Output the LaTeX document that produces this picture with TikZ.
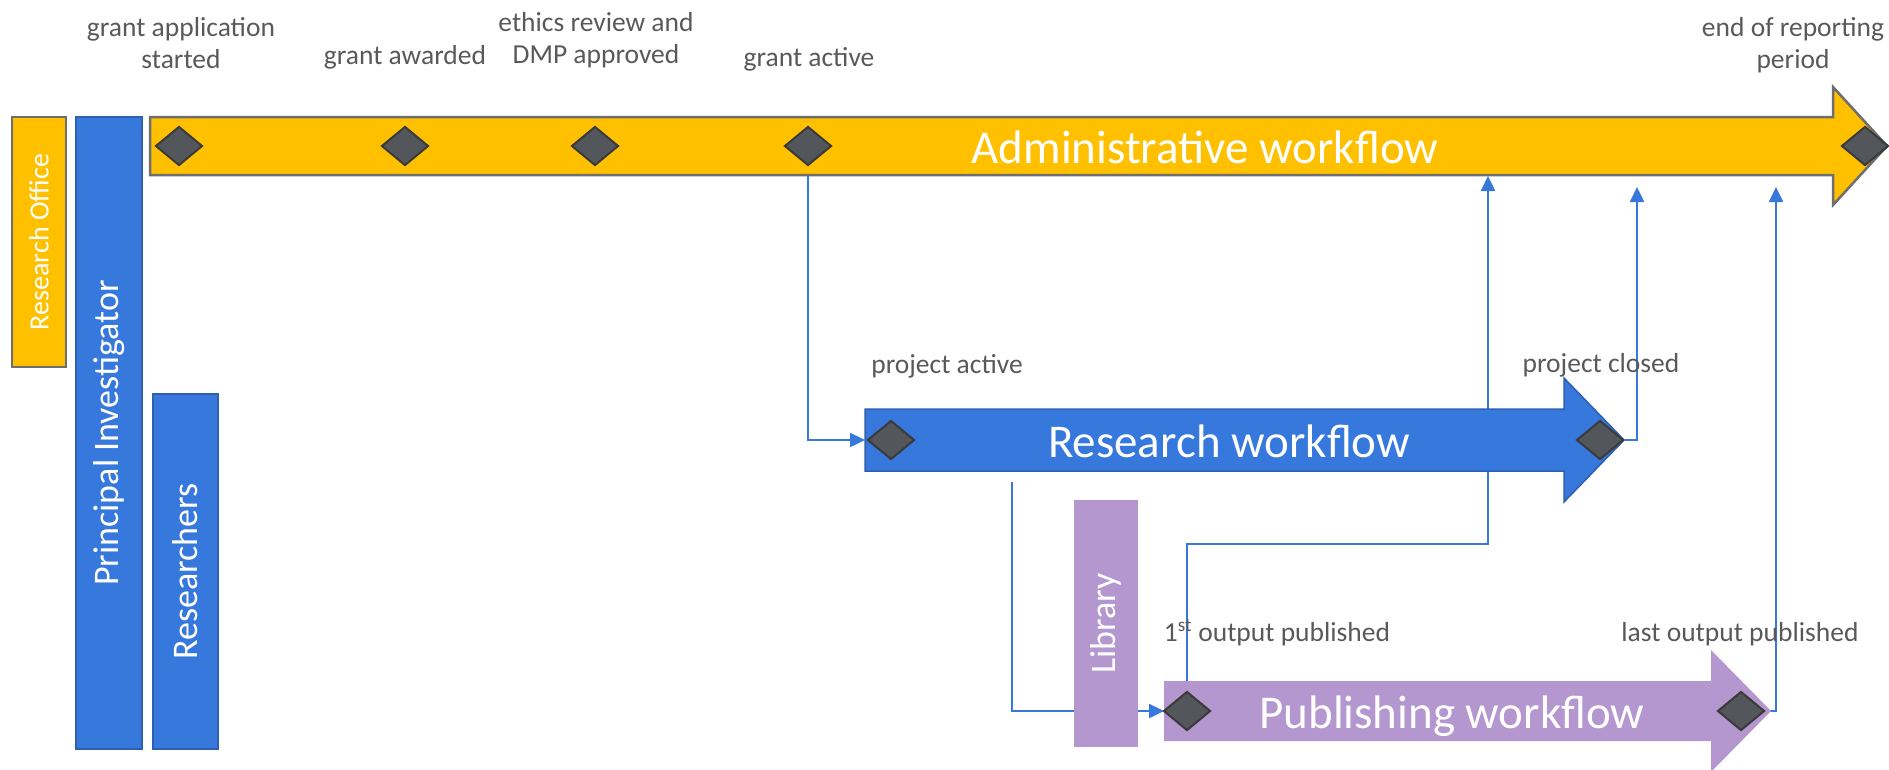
\documentclass[tikz,border=0pt]{standalone}
\usepackage{fontspec}
\setmainfont{Carlito}
\usepackage{tikz}
\usetikzlibrary{shapes.geometric,arrows.meta,positioning,backgrounds}

\definecolor{adminyellow}{HTML}{FFC000}
\definecolor{resblue}{HTML}{3778DC}
\definecolor{resedge}{HTML}{2F5FAF}
\definecolor{pubpurple}{HTML}{B497CF}
\definecolor{msgrey}{HTML}{53565A}
\definecolor{msedge}{HTML}{3A3A3A}
\definecolor{lblgrey}{HTML}{595959}
\definecolor{boxedge}{HTML}{6E6E6E}

\tikzset{
  milestone/.style={diamond, draw=msedge, line width=2pt, fill=msgrey, minimum width=47pt, minimum height=39pt, inner sep=0pt},
  lbl/.style={text=lblgrey, align=center, font=\fontsize{27.5}{32}\selectfont, anchor=base, inner sep=0pt},
  flowtext/.style={text=white, font=\fontsize{47}{50}\selectfont, anchor=base, inner sep=0pt},
  lane/.style={rotate=90, text=white, inner sep=0pt},
  flow/.style={draw=resblue, line width=2.4pt, -{Triangle[length=15pt,width=14pt]}},
}

\begin{document}
\begin{tikzpicture}[x=1pt, y=-1pt]
    \useasboundingbox (0,0) rectangle (1889,769);

    % Lanes
    \node[lane, fill=adminyellow, draw=boxedge, line width=2pt, minimum width=250pt, minimum height=54pt, font=\fontsize{28}{30}\selectfont] (office) at (39,242) {Research Office};
    \node[lane, fill=resblue, draw=resedge, line width=2pt, minimum width=632pt, minimum height=66pt, font=\fontsize{36}{40}\selectfont] (pi) at (109,433) {Principal Investigator};
    \node[lane, fill=resblue, draw=resedge, line width=2pt, minimum width=355pt, minimum height=65pt, font=\fontsize{36}{40}\selectfont] (researchers) at (185.5,571.5) {Researchers};
    \node[lane, fill=pubpurple, minimum width=247pt, minimum height=64pt, font=\fontsize{36}{40}\selectfont] (library) at (1106,623.5) {Library};

    % Workflows
    \draw[fill=adminyellow, draw=boxedge, line width=2.5pt] (150,117) -- (1833,117) -- (1833,87) -- (1887,146) -- (1833,205) -- (1833,175) -- (150,175) -- cycle;
    \draw[fill=resblue, draw=resedge, line width=1.5pt] (865,409) -- (1564,409) -- (1564,378) -- (1624,440) -- (1564,502) -- (1564,471) -- (865,471) -- cycle;
    \fill[pubpurple] (1164,681) -- (1711,681) -- (1711,650) -- (1771,711) -- (1711,772) -- (1711,741) -- (1164,741) -- cycle;

    \node[flowtext] (admintext) at (1205,163) {Administrative workflow};
    \node[flowtext] (restext) at (1229,457) {Research workflow};
    \node[flowtext] (pubtext) at (1452,728) {Publishing workflow};

    % Milestones
    \node[milestone] (dA1) at (179,146) {};
    \node[milestone] (dA2) at (405,146) {};
    \node[milestone] (dA3) at (595,146) {};
    \node[milestone] (dA4) at (808,146) {};
    \node[milestone] (dA5) at (1865,146) {};
    \node[milestone] (dR1) at (891,440) {};
    \node[milestone] (dR2) at (1600,440) {};
    \node[milestone] (dP1) at (1187,711) {};
    \node[milestone] (dP2) at (1741,711) {};

    % Labels
    \node[lbl] (lA1) at (181,68) {grant application\\started};
    \node[lbl] (lA2) at (405,64) {grant awarded};
    \node[lbl] (lA3) at (596,63) {ethics review and\\DMP approved};
    \node[lbl] (lA4) at (809,66) {grant active};
    \node[lbl] (lA5) at (1793,68) {end of reporting\\period};
    \node[lbl] (lR1) at (947,373) {project active};
    \node[lbl] (lR2) at (1601,372) {project closed};
    \node[lbl] (lP1) at (1277,641) {1\textsuperscript{st} output published};
    \node[lbl] (lP2) at (1740,641) {last output published};

    % Hand-overs
    \coordinate (resIn) at (865,440);
    \coordinate (resOut) at (1012,482);
    \coordinate (pubIn) at (1164,711);
    \coordinate (bend1) at (1488,544);
    \coordinate (admIn1) at (1488,176);
    \coordinate (admIn2) at (1637,187);
    \coordinate (admIn3) at (1776,187);
    \begin{scope}[on background layer]
      \draw[flow] (dA4.center) |- (resIn);
      \draw[flow] (resOut) |- (pubIn);
      \draw[flow] (dP1.center) |- (bend1) -- (admIn1);
      \draw[flow] (dR2.east) -| (admIn2);
      \draw[flow] (dP2.east) -| (admIn3);
    \end{scope}
\end{tikzpicture}
\end{document}
